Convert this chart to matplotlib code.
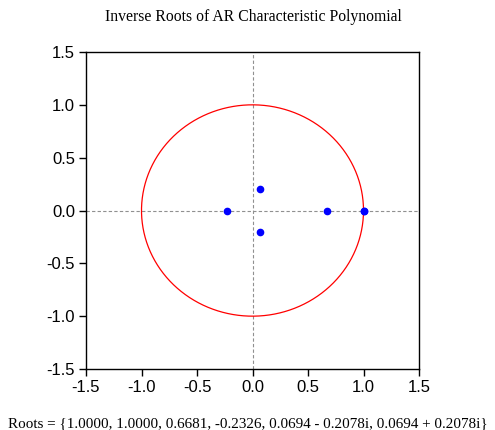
import numpy as np
import matplotlib.pyplot as plt

# inverse roots of the AR characteristic polynomial
root_re = [1.0000, 1.0000, 0.6681, -0.2326, 0.0694, 0.0694]
root_im = [0.0, 0.0, 0.0, 0.0, -0.2078, 0.2078]
root_labels = ['1.0000', '1.0000', '0.6681', '-0.2326',
               '0.0694 - 0.2078i', '0.0694 + 0.2078i']
ticks = [-1.5, -1.0, -0.5, 0.0, 0.5, 1.0, 1.5]

fig = plt.figure(figsize=(4.95, 4.30), dpi=100)
ax = fig.add_axes([86 / 495, 1 - 369 / 430, 333 / 495, 317 / 430])

theta = np.linspace(0, 2 * np.pi, 400)
ax.axhline(0, color='#909090', lw=0.8, ls=(0, (3, 2)), zorder=1)
ax.axvline(0, color='#909090', lw=0.8, ls=(0, (3, 2)), zorder=1)
ax.plot(np.cos(theta), np.sin(theta), color='red', lw=0.9, zorder=2)
ax.plot(root_re, root_im, 'o', color='blue', ms=4.5, zorder=3)

ax.set_xlim(-1.5, 1.5)
ax.set_ylim(-1.5, 1.5)
ax.set_xticks(ticks)
ax.set_yticks(ticks)
ax.set_xticklabels([f'{t:.1f}' for t in ticks], family='Liberation Sans', fontsize=12)
ax.set_yticklabels([f'{t:.1f}' for t in ticks], family='Liberation Sans', fontsize=12)
ax.tick_params(direction='out', length=5, width=1, pad=3)
for s in ax.spines.values():
    s.set_linewidth(1)

fig.text(253 / 495, 1 - 17 / 430, 'Inverse Roots of AR Characteristic Polynomial',
         ha='center', va='center', family='Liberation Serif', fontsize=11.3)
fig.text(248 / 495, 1 - 424 / 430, 'Roots = {' + ', '.join(root_labels) + '}',
         ha='center', va='center', family='Liberation Serif', fontsize=10.9)

plt.savefig('out.png', dpi=100)
